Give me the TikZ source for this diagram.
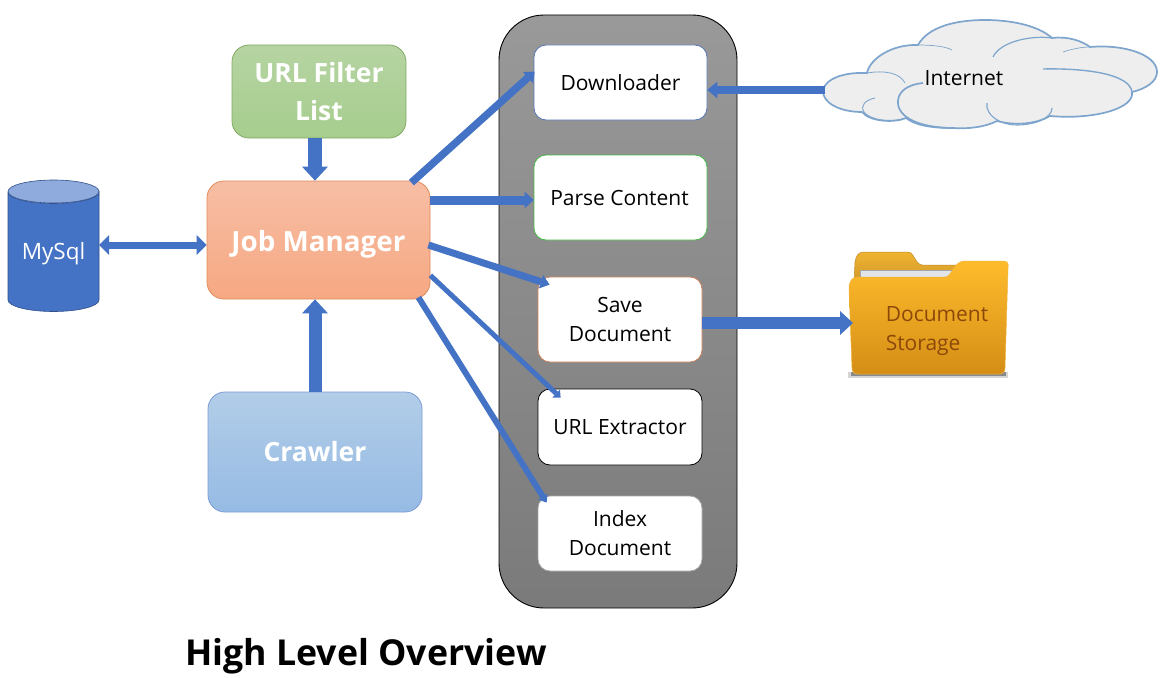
\documentclass[tikz,border=0pt]{standalone}
\usepackage{fontspec}
\setmainfont{Open Sans}
\usetikzlibrary{arrows.meta,calc}
\definecolor{arrowblue}{HTML}{4472C4}
\definecolor{cloudline}{RGB}{125,165,205}
\tikzset{
  x=1pt,y=-1pt,
  procbox/.style={draw,fill=white,rounded corners=12pt,line width=0.8pt,align=center,font=\fontsize{21}{29}\selectfont,inner sep=0pt,text=black},
  mainbox/.style={rounded corners=17pt,line width=0.8pt,align=center,font=\bfseries\fontsize{26.5}{38}\selectfont,text=white,inner sep=0pt},
  flow/.style={draw=arrowblue,line width=#1,line cap=butt},
  flow/.default=9pt,
  cloudarc/.style={draw=cloudline,line width=#1},
}
\begin{document}
\begin{tikzpicture}
\useasboundingbox (0,0) rectangle (1172,677);
\fill[white] (0,0) rectangle (1172,677);

% pill
\node[draw=black,line width=0.9pt,rounded corners=45pt,top color=gray!80!white,bottom color=black!52!white,minimum width=238pt,minimum height=593pt,inner sep=0pt] (pill) at (618,311.5) {};

% process boxes
\node[procbox,draw=arrowblue!75!gray,minimum width=173pt,minimum height=75pt] (down) at (620.5,82.5) {Downloader};
\node[procbox,draw=green!45!gray,minimum width=173pt,minimum height=85pt] (parse) at (620.5,197.5) {\hspace*{-2pt}Parse Content};
\node[procbox,draw={rgb,255:red,205;green,130;blue,90},minimum width=164pt,minimum height=85pt] (save) at (620,319.5) {Save\\Document};
\node[procbox,draw=black,minimum width=164pt,minimum height=76pt] (urlx) at (620,427) {URL Extractor};
\node[procbox,draw=gray!70,minimum width=164pt,minimum height=75pt] (index) at (620,533.5) {Index\\Document};

% main boxes
\node[mainbox,draw={rgb,255:red,130;green,170;blue,100},top color={rgb,255:red,182;green,212;blue,162},bottom color={rgb,255:red,166;green,205;blue,142},minimum width=174pt,minimum height=93pt] (filter) at (319,91.5) {URL Filter\\List};
\node[mainbox,font=\bfseries\fontsize{27.8}{38}\selectfont,draw={rgb,255:red,225;green,140;blue,90},top color={rgb,255:red,247;green,190;blue,165},bottom color={rgb,255:red,246;green,168;blue,130},minimum width=223pt,minimum height=118pt] (job) at (318.5,240) {\raisebox{-4pt}[\height][\depth]{Job Manager}};
\node[mainbox,draw=arrowblue!70,top color={rgb,255:red,178;green,205;blue,232},bottom color={rgb,255:red,150;green,187;blue,228},minimum width=214pt,minimum height=120pt] (crawler) at (315,452) {Crawler};

% database
\path[fill=arrowblue,draw=arrowblue!70!black,line width=0.6pt] (8,192) -- (8,300) arc[start angle=180,end angle=360,x radius=45.5,y radius=-11.5] -- (99,192) arc[start angle=0,end angle=180,x radius=45.5,y radius=11.5];
\path[fill={rgb,255:red,143;green,170;blue,220},draw=arrowblue!70!black,line width=0.6pt] (53.5,191.5) ellipse[x radius=45.5,y radius=11.5];
\node[inner sep=0pt,minimum width=91pt,minimum height=132pt] (db) at (53.5,246) {};
\node[inner sep=0pt,text=white,font=\fontsize{22.5}{28}\selectfont] (dblabel) at (53.5,254) {MySql};

% cloud
\path[fill={rgb,255:red,238;green,238;blue,238},cloudarc=1.7pt]
 (823,90) .. controls (826,78) and (845,72) .. (867,73)
 .. controls (870,58) and (893,44) .. (918,45)
 .. controls (928,27) and (955,20) .. (985,20)
 .. controls (1015,20) and (1040,27) .. (1052,38)
 .. controls (1068,36) and (1082,41) .. (1090,47)
 .. controls (1125,44) and (1157,55) .. (1157,72)
 .. controls (1157,82) and (1145,89) .. (1132,92)
 .. controls (1135,108) and (1095,120) .. (1050,116)
 .. controls (1040,122) and (1020,127) .. (997,121)
 .. controls (985,127) and (970,129) .. (953,128)
 .. controls (930,128) and (915,125) .. (906,118)
 .. controls (895,123) and (870,122) .. (862,112)
 .. controls (840,112) and (822,103) .. (823,90) -- cycle;
\path[cloudarc=1.7pt]
 (923,83) .. controls (905,85) and (897,93) .. (898,104) .. controls (900,120) and (925,128) .. (953,128);
\path[cloudarc=1.4pt]
 (1043,69) .. controls (1090,68) and (1130,75) .. (1132,92);
\path[cloudarc=1.2pt]
 (993,57) .. controls (1000,42) and (1030,35) .. (1052,38);
\path[cloudarc=0.7pt]
 (1063,52) .. controls (1072,49) and (1082,47) .. (1090,47);
\path[cloudarc=0.8pt]
 (867,73) .. controls (885,70) and (900,73) .. (905,83);
\path[cloudarc=0.7pt]
 (918,45) .. controls (930,45) and (945,46) .. (952,50);
\path[cloudarc=1.1pt]
 (987,103) .. controls (985,115) and (1000,125) .. (1017,125) .. controls (1035,125) and (1052,118) .. (1052,108);
\path[cloudarc=0.9pt]
 (875,98) .. controls (865,100) and (860,106) .. (864,112) .. controls (870,120) and (890,123) .. (906,118);
\node[inner sep=0pt,font=\fontsize{21}{24}\selectfont] (net) at (964,78) {Internet};
\coordinate (cloudw) at (825,90);

% folder
\path[fill=black!65,opacity=0.25] (848,372) rectangle (1008,378);
\path[fill=black!65,opacity=0.6] (851,372) rectangle (1006,376);
\path[top color={rgb,255:red,240;green,180;blue,50},bottom color={rgb,255:red,205;green,150;blue,40},draw={rgb,255:red,190;green,140;blue,40},line width=0.5pt]
 (854,282) -- (855,262) .. controls (856,255) and (859,252) .. (864,252) -- (908,252) .. controls (914,252) and (915,264) .. (922,265) -- (960,265) -- (960,285) -- cycle;
\path[fill={rgb,255:red,225;green,228;blue,232},draw=gray!70,line width=0.4pt] (860,270) rectangle (953,278);
\path[top color={rgb,255:red,254;green,188;blue,44},bottom color={rgb,255:red,212;green,142;blue,22},draw={rgb,255:red,240;green,180;blue,60},line width=0.5pt]
 (849,289) .. controls (849,281) and (852,277) .. (858,277) -- (945,277) .. controls (952,277) and (953,262) .. (964,261) -- (1003,261) .. controls (1007,261) and (1009,263) .. (1008,268) -- (1005,368) .. controls (1005,372) and (1003,374) .. (1000,374) -- (858,374) .. controls (854,374) and (852,372) .. (852,368) -- cycle;
\node[inner sep=0pt,align=left,text={rgb,255:red,140;green,72;blue,10},font=\fontsize{21}{29}\selectfont] (docs) at (937,331) {Document\\Storage};
\coordinate (folderw) at (853,323);

% connectors
\draw[flow=14pt,-{Triangle[length=14pt,width=26pt,line width=0pt,fill=arrowblue]}] (filter.south -| 315,0) -- (job.north -| 315,0);
\draw[flow=13pt,-{Triangle[length=14pt,width=26pt,line width=0pt,fill=arrowblue]}] (crawler.north -| 315,0) -- (job.south -| 315,0);
\draw[flow=7pt,{Triangle[length=10pt,width=20pt,line width=0pt,fill=arrowblue]}-{Triangle[length=10pt,width=20pt,line width=0pt,fill=arrowblue]}] (db.east |- 0,245) -- (job.west |- 0,245);
\draw[flow=8pt,-{Triangle[length=10pt,width=17pt,line width=0pt,fill=arrowblue]}] (cloudw) -- (down.east |- cloudw);
\draw[flow=12pt,-{Triangle[length=13pt,width=24pt,line width=0pt,fill=arrowblue]}] (save.east |- folderw) -- (folderw);
\draw[flow=7.5pt,-{Triangle[length=9pt,width=15pt,line width=0pt,fill=arrowblue]}] ([shift={(-19,2)}]job.north east) -- ([shift={(1,27)}]down.north west);
\draw[flow=9pt,-{Triangle[length=9pt,width=17pt,line width=0pt,fill=arrowblue]}] (job.east |- 0,200) -- (parse.west |- 0,200);
\draw[flow=7pt,-{Triangle[length=9pt,width=14pt,line width=0pt,fill=arrowblue]}] ([shift={(-2,5)}]job.east) -- ([shift={(12,8)}]save.north west);
\draw[flow=5pt,-{Triangle[length=6pt,width=11pt,line width=0pt,fill=arrowblue]}] ([shift={(0,-24)}]job.south east) -- ([shift={(23,9)}]urlx.north west);
\draw[flow=6pt,-{Triangle[length=7pt,width=11pt,line width=0pt,fill=arrowblue]}] ([shift={(-12,-2)}]job.south east) -- ([shift={(9,7)}]index.north west);

% title
\node[anchor=base west,inner sep=0pt,font=\bfseries\fontsize{35.7}{44}\selectfont] (title) at (185,665) {High Level Overview};
\end{tikzpicture}
\end{document}
